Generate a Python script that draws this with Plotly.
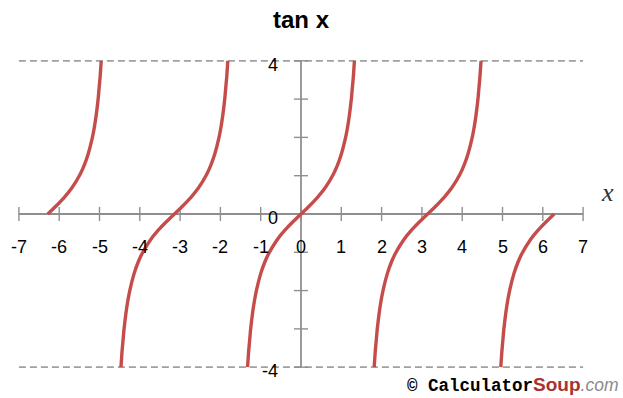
import plotly.graph_objects as go

# One period of tan x, clipped to the visible band |y| <= 4
branch_u = [-1.3258, -1.3, -1.27, -1.25, -1.2, -1.15, -1.1, -1.0, -0.9, -0.8, -0.6, -0.4, -0.2, 0.0,
            0.2, 0.4, 0.6, 0.8, 0.9, 1.0, 1.1, 1.15, 1.2, 1.25, 1.27, 1.3, 1.3258]
branch_v = [-4.0, -3.602, -3.246, -3.010, -2.572, -2.234, -1.965, -1.557, -1.260, -1.030, -0.684, -0.423, -0.203, 0.0,
            0.203, 0.423, 0.684, 1.030, 1.260, 1.557, 1.965, 2.234, 2.572, 3.010, 3.246, 3.602, 4.0]

# branch centres (multiples of pi) and the part of each branch that lies in [-2pi, 2pi]
branch_centres = [-6.2832, -3.1416, 0.0, 3.1416, 6.2832]
branch_side = ["right", "both", "both", "both", "left"]

x_ticks = [-7, -6, -5, -4, -3, -2, -1, 0, 1, 2, 3, 4, 5, 6, 7]
y_ticks = [-4, -3, -2, -1, 0, 1, 2, 3, 4]
y_labels = [4, 0, -4]
y_limit = 4

CURVE = "#c44d4b"
AXIS = "#8f8f8f"

fig = go.Figure()

# dashed limit lines
for lim in (y_limit, -y_limit):
    fig.add_trace(go.Scatter(x=[x_ticks[0], x_ticks[-1]], y=[lim, lim], mode="lines",
                             line=dict(color="#a0a0a0", width=1.8, dash="7px,4px"),
                             hoverinfo="skip", showlegend=False))

# axes
fig.add_trace(go.Scatter(x=[x_ticks[0], x_ticks[-1]], y=[0, 0], mode="lines",
                         line=dict(color=AXIS, width=1.8), hoverinfo="skip", showlegend=False))
fig.add_trace(go.Scatter(x=[0, 0], y=[y_ticks[0], y_ticks[-1]], mode="lines",
                         line=dict(color=AXIS, width=1.8), hoverinfo="skip", showlegend=False))
fig.add_trace(go.Scatter(x=x_ticks, y=[0] * len(x_ticks), mode="markers",
                         marker=dict(symbol="line-ns", size=10, line=dict(color=AXIS, width=1.4)),
                         hoverinfo="skip", showlegend=False))
fig.add_trace(go.Scatter(x=[0] * len(y_ticks), y=y_ticks, mode="markers",
                         marker=dict(symbol="line-ew", size=10, line=dict(color=AXIS, width=1.4)),
                         hoverinfo="skip", showlegend=False))

# tan x branches
for c, side in zip(branch_centres, branch_side):
    xs, ys = [], []
    for u, v in zip(branch_u, branch_v):
        if side == "right" and u < 0:
            continue
        if side == "left" and u > 0:
            continue
        xs.append(c + u)
        ys.append(v)
    fig.add_trace(go.Scatter(x=xs, y=ys, mode="lines",
                             line=dict(color=CURVE, width=3.4, shape="spline", smoothing=0.6),
                             hoverinfo="skip", showlegend=False))

annotations = []
for t in x_ticks:
    annotations.append(dict(x=t, y=0, xref="x", yref="y", text=str(t), showarrow=False,
                            yshift=-33, font=dict(family="Liberation Sans, Arial", size=18, color="black")))
for t in y_labels:
    annotations.append(dict(x=0, y=t, xref="x", yref="y", text=str(t), showarrow=False,
                            xanchor="right", xshift=-21, yshift=-4,
                            font=dict(family="Liberation Sans, Arial", size=18, color="black")))
annotations.append(dict(x=7.6, y=0.55, xref="x", yref="y", text="<i>x</i>", showarrow=False,
                        font=dict(family="Liberation Serif, Times New Roman", size=26, color="#333333")))
annotations.append(dict(x=0, y=1, xref="x", yref="paper", xanchor="center", yanchor="top", yshift=-4,
                        text="<b>tan x</b>", showarrow=False,
                        font=dict(family="Liberation Sans, Arial", size=24, color="black")))
annotations.append(dict(
    x=1, y=0, xref="paper", yref="paper", xanchor="right", yanchor="bottom", xshift=-3, yshift=0,
    text=("<span style='font-family:Liberation Mono, Courier New; font-weight:bold'>\u00a9 Calculator</span>"
          "<span style='font-family:Liberation Sans, Arial; color:#a8322f; font-weight:bold; font-size:19px'>Soup</span>"
          "<span style='font-family:Liberation Sans, Arial; color:#8a8a8a; font-style:italic'>.com</span>"),
    showarrow=False, font=dict(size=17.5, color="black")))

fig.update_layout(
    width=623, height=398, margin=dict(l=0, r=0, t=0, b=0),
    paper_bgcolor="white", plot_bgcolor="white",
    xaxis=dict(range=[-7.469, 7.990], visible=False, fixedrange=True),
    yaxis=dict(range=[-4.804, 5.587], visible=False, fixedrange=True),
    annotations=annotations, showlegend=False,
)

fig.write_html("out.html")
